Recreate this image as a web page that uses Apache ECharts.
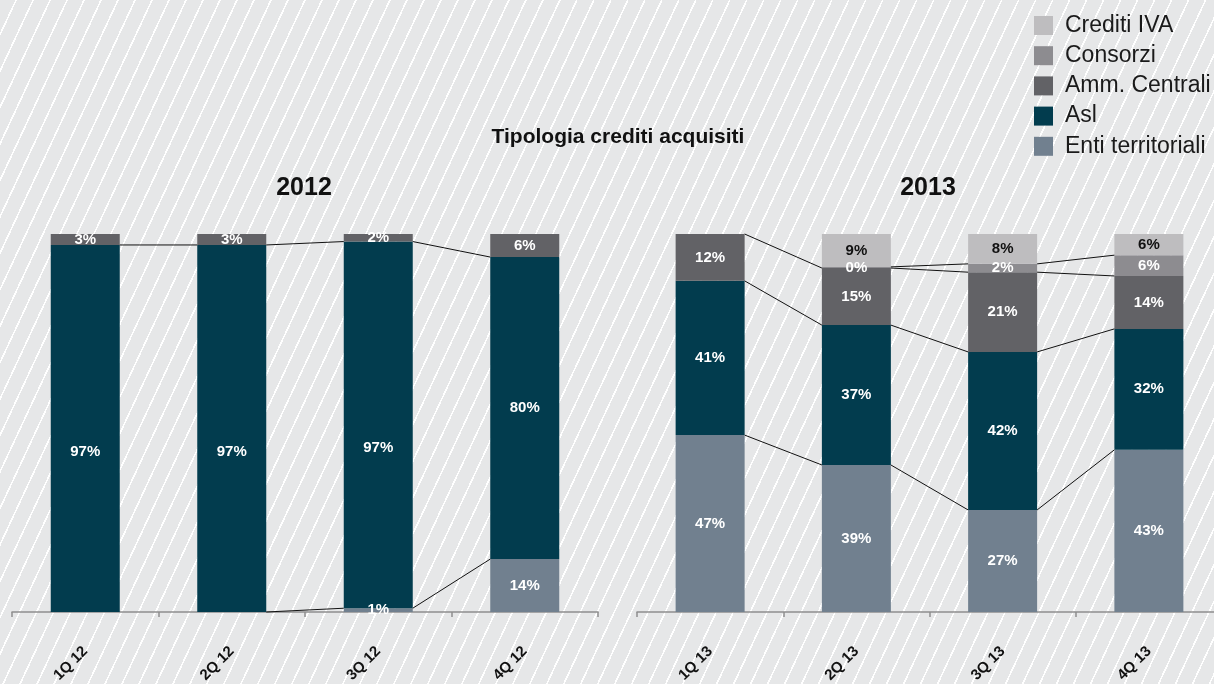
<!DOCTYPE html>
<html><head><meta charset="utf-8">
<script src="https://cdn.jsdelivr.net/npm/echarts@6/dist/echarts.min.js"></script>
<style>
html,body{margin:0;padding:0;}
#chart{width:1214px;height:684px;background:#e6e7e8 repeating-linear-gradient(115deg,#e6e7e8 0px,#e6e7e8 13.8px,#ffffff 13.8px,#ffffff 15.4px);}
</style></head><body><div id="chart"></div>
<script>
// ---- data ----
const categories2012 = ['1Q 12','2Q 12','3Q 12','4Q 12'];
const categories2013 = ['1Q 13','2Q 13','3Q 13','4Q 13'];
const enti2012 = [0, 0, 1.0, 14.0];
const asl2012  = [97.1, 97.1, 97.0, 79.9];
const amm2012  = [2.9, 2.9, 2.0, 6.1];
const enti2013     = [46.8, 38.9, 27.0, 42.9];
const asl2013      = [40.8, 37.0, 41.8, 32.0];
const amm2013      = [12.4, 15.1, 21.1, 14.0];
const consorzi2013 = [0, 0.3, 2.2, 5.5];
const iva2013      = [0, 8.7, 7.9, 5.6];

// ---- style ----
const FONT = '"Liberation Sans", Arial, sans-serif';
const COLORS = {'Enti territoriali':'#71808f','Asl':'#023c4e','Amm. Centrali':'#626266','Consorzi':'#8d8c90','Crediti IVA':'#bebdbf'};
const BAR_W = 69;

function connectorData(list){
  const n = list[0].length; const acc = new Array(n).fill(0); const d = [];
  list.forEach((arr, s) => {
    for(let i=0;i<n;i++) acc[i]+=arr[i];
    for(let i=0;i<n-1;i++){
      if (acc[i] >= 99.9 && acc[i+1] >= 99.9) continue;
      if (acc[i] <= 0.01 && acc[i+1] <= 0.01) continue;
      if (s > 0 && arr[i] === 0) continue; // empty segment duplicates the line below
      d.push([i, acc[i], acc[i+1]]);
    }
  });
  return d;
}
function connectorRender(params, api){
  const i = api.value(0);
  const p0 = api.coord([i, api.value(1)]);
  const p1 = api.coord([i+1, api.value(2)]);
  const half = BAR_W/2;
  return {type:'line', shape:{x1:p0[0]+half, y1:p0[1], x2:p1[0]-half, y2:p1[1]},
          style:{stroke:'#111', lineWidth:1}};
}
function barSeries(name, data, idx, stack, bigOffset){
  return {
    name, type:'bar', stack, xAxisIndex:idx, yAxisIndex:idx, barWidth:BAR_W,
    data: data.map(v => (bigOffset && v > 95) ? {value:v, label:{offset:[0,23]}} : v),
    itemStyle:{color:COLORS[name]},
    label:{show:true, position:'inside', fontFamily:FONT, fontSize:15, fontWeight:'bold',
      color: name==='Crediti IVA' ? '#111' : '#ffffff',
      formatter: p => p.value > 0 ? Math.round(p.value) + '%' : ''},
    emphasis:{disabled:true}
  };
}
const axisCommon = {
  type:'category', boundaryGap:true,
  axisLine:{show:true, lineStyle:{color:'#8e8e8e', width:1.5}},
  axisTick:{show:true, length:5, alignWithLabel:false, lineStyle:{color:'#8e8e8e', width:1.5}},
  axisLabel:{rotate:45, margin:37, interval:0, fontFamily:FONT, fontSize:15, fontWeight:'bold', color:'#111'}
};
const yCommon = {type:'value', min:0, max:100, show:false, splitLine:{show:false}};

const list2012 = [enti2012, asl2012, amm2012];
const list2013 = [enti2013, asl2013, amm2013, consorzi2013, iva2013];

const chart = echarts.init(document.getElementById('chart'), null, {renderer:'canvas'});
chart.setOption({
  backgroundColor:'transparent',
  animation:false,
  title:[
    {text:'Tipologia crediti acquisiti', left:618, top:127, textAlign:'center', padding:0,
     textStyle:{fontFamily:FONT, fontSize:21, fontWeight:'bold', color:'#111'}},
    {text:'2012', left:304, top:176, textAlign:'center', padding:0,
     textStyle:{fontFamily:FONT, fontSize:25, fontWeight:'bold', color:'#111'}},
    {text:'2013', left:928, top:176, textAlign:'center', padding:0,
     textStyle:{fontFamily:FONT, fontSize:25, fontWeight:'bold', color:'#111'}}
  ],
  legend:{orient:'vertical', left:1034, top:14, itemWidth:19, itemHeight:19, itemGap:7.2, icon:'rect',
    selectedMode:false, padding:0,
    data:['Crediti IVA','Consorzi','Amm. Centrali','Asl','Enti territoriali'],
    textStyle:{fontFamily:FONT, fontSize:23, lineHeight:23, color:'#1a1a1a', padding:[0,0,0,7]}},
  grid:[
    {left:12, width:586, top:234, height:378, containLabel:false, outerBoundsMode:'none'},
    {left:637, width:585, top:234, height:378, containLabel:false, outerBoundsMode:'none'}
  ],
  xAxis:[
    Object.assign({gridIndex:0, data:categories2012}, axisCommon),
    Object.assign({gridIndex:1, data:categories2013}, axisCommon)
  ],
  yAxis:[
    Object.assign({gridIndex:0}, yCommon),
    Object.assign({gridIndex:1}, yCommon)
  ],
  series:[
    barSeries('Enti territoriali', enti2012, 0, 'a'),
    barSeries('Asl', asl2012, 0, 'a', true),
    barSeries('Amm. Centrali', amm2012, 0, 'a'),
    barSeries('Enti territoriali', enti2013, 1, 'b'),
    barSeries('Asl', asl2013, 1, 'b'),
    barSeries('Amm. Centrali', amm2013, 1, 'b'),
    barSeries('Consorzi', consorzi2013, 1, 'b'),
    barSeries('Crediti IVA', iva2013, 1, 'b'),
    {name:'conn2012', type:'custom', xAxisIndex:0, yAxisIndex:0, data:connectorData(list2012),
     renderItem:connectorRender, encode:{x:0, y:[1,2]}, z:5, silent:true},
    {name:'conn2013', type:'custom', xAxisIndex:1, yAxisIndex:1, data:connectorData(list2013),
     renderItem:connectorRender, encode:{x:0, y:[1,2]}, z:5, silent:true}
  ]
});
</script></body></html>
